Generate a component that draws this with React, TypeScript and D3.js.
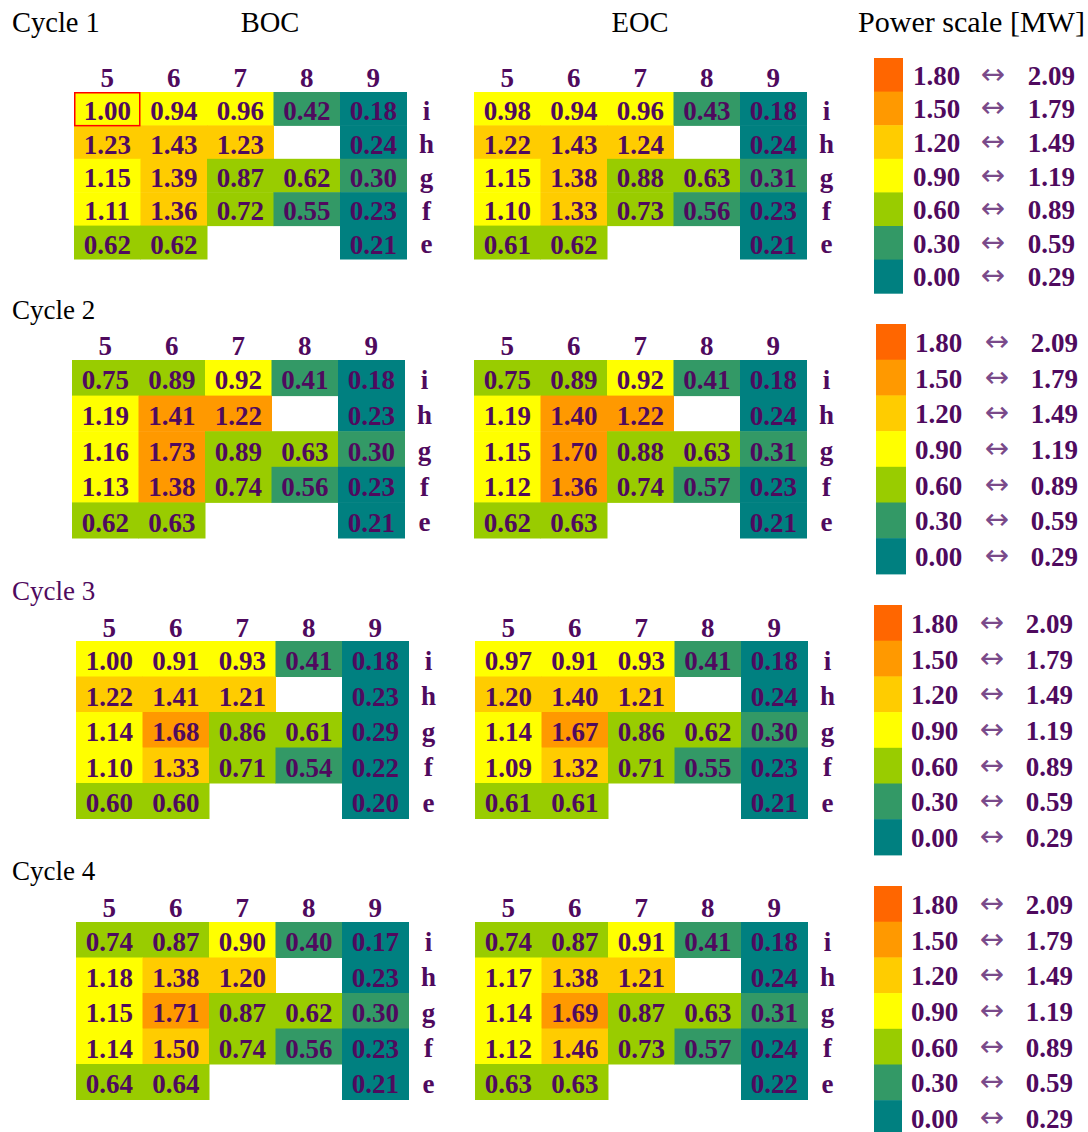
import React from "react";
import * as d3 from "d3";

// ---------- data ----------
const columns = ["5", "6", "7", "8", "9"];
const rows = ["i", "h", "g", "f", "e"];
const cycles = ["Cycle 1", "Cycle 2", "Cycle 3", "Cycle 4"];
const stages = ["BOC", "EOC"];

type Grid = (number | null)[][];

const c1BOC: Grid = [
  [1.0, 0.94, 0.96, 0.42, 0.18],
  [1.23, 1.43, 1.23, null, 0.24],
  [1.15, 1.39, 0.87, 0.62, 0.3],
  [1.11, 1.36, 0.72, 0.55, 0.23],
  [0.62, 0.62, null, null, 0.21],
];
const c1EOC: Grid = [
  [0.98, 0.94, 0.96, 0.43, 0.18],
  [1.22, 1.43, 1.24, null, 0.24],
  [1.15, 1.38, 0.88, 0.63, 0.31],
  [1.1, 1.33, 0.73, 0.56, 0.23],
  [0.61, 0.62, null, null, 0.21],
];
const c2BOC: Grid = [
  [0.75, 0.89, 0.92, 0.41, 0.18],
  [1.19, 1.41, 1.22, null, 0.23],
  [1.16, 1.73, 0.89, 0.63, 0.3],
  [1.13, 1.38, 0.74, 0.56, 0.23],
  [0.62, 0.63, null, null, 0.21],
];
const c2EOC: Grid = [
  [0.75, 0.89, 0.92, 0.41, 0.18],
  [1.19, 1.4, 1.22, null, 0.24],
  [1.15, 1.7, 0.88, 0.63, 0.31],
  [1.12, 1.36, 0.74, 0.57, 0.23],
  [0.62, 0.63, null, null, 0.21],
];
const c3BOC: Grid = [
  [1.0, 0.91, 0.93, 0.41, 0.18],
  [1.22, 1.41, 1.21, null, 0.23],
  [1.14, 1.68, 0.86, 0.61, 0.29],
  [1.1, 1.33, 0.71, 0.54, 0.22],
  [0.6, 0.6, null, null, 0.2],
];
const c3EOC: Grid = [
  [0.97, 0.91, 0.93, 0.41, 0.18],
  [1.2, 1.4, 1.21, null, 0.24],
  [1.14, 1.67, 0.86, 0.62, 0.3],
  [1.09, 1.32, 0.71, 0.55, 0.23],
  [0.61, 0.61, null, null, 0.21],
];
const c4BOC: Grid = [
  [0.74, 0.87, 0.9, 0.4, 0.17],
  [1.18, 1.38, 1.2, null, 0.23],
  [1.15, 1.71, 0.87, 0.62, 0.3],
  [1.14, 1.5, 0.74, 0.56, 0.23],
  [0.64, 0.64, null, null, 0.21],
];
const c4EOC: Grid = [
  [0.74, 0.87, 0.91, 0.41, 0.18],
  [1.17, 1.38, 1.21, null, 0.24],
  [1.14, 1.69, 0.87, 0.63, 0.31],
  [1.12, 1.46, 0.73, 0.57, 0.24],
  [0.63, 0.63, null, null, 0.22],
];
const grids: Grid[][] = [
  [c1BOC, c1EOC],
  [c2BOC, c2EOC],
  [c3BOC, c3EOC],
  [c4BOC, c4EOC],
];

// Power scale bands (MW)
const bandLow = [1.8, 1.5, 1.2, 0.9, 0.6, 0.3, 0.0];
const bandHigh = [2.09, 1.79, 1.49, 1.19, 0.89, 0.59, 0.29];
const bandColors = ["#FF6600", "#FF9900", "#FFCC00", "#FFFF00", "#99CC00", "#339966", "#008080"];

// cells whose shading in the source differs from the value's band
const shadeOverrides = [
  { cycle: 1, stage: 0, row: "h", col: "6", band: 1.5 },
  { cycle: 1, stage: 0, row: "h", col: "7", band: 1.5 },
  { cycle: 1, stage: 0, row: "f", col: "6", band: 1.5 },
  { cycle: 1, stage: 1, row: "h", col: "6", band: 1.5 },
  { cycle: 1, stage: 1, row: "h", col: "7", band: 1.5 },
  { cycle: 1, stage: 1, row: "f", col: "6", band: 1.5 },
  { cycle: 3, stage: 0, row: "f", col: "6", band: 1.2 },
];

// ---------- layout ----------
const layout = [
  { top: 92, rowH: 33.4, x0: [74, 474], head: 87, label: 32, labelSize: 28.5, labelColor: "#000",
    lx: 874, lw: 29, ly: 58, lh: 33.6, t1: 913, ta: 993, t2: 1075 },
  { top: 360, rowH: 35.6, x0: [72, 474], head: 355, label: 319, labelSize: 27, labelColor: "#000",
    lx: 876, lw: 30, ly: 324, lh: 35.7, t1: 915, ta: 997, t2: 1078 },
  { top: 641, rowH: 35.5, x0: [76, 475], head: 637, label: 600, labelSize: 27, labelColor: "#4f0a5e",
    lx: 874, lw: 28, ly: 605, lh: 35.7, t1: 911, ta: 992, t2: 1073 },
  { top: 922, rowH: 35.5, x0: [76, 475], head: 917, label: 880, labelSize: 27, labelColor: "#000",
    lx: 874, lw: 28, ly: 886, lh: 35.7, t1: 911, ta: 992, t2: 1073 },
];
const colW = 66.5;
const PURPLE = "#4f0a5e";
const FONT = "'Liberation Serif', 'Times New Roman', Times, serif";
const NUM = 27;

const colorScale = d3
  .scaleThreshold<number, string>()
  .domain([0.3, 0.6, 0.9, 1.2, 1.5, 1.8])
  .range(bandColors.slice().reverse());

export default function App() {
  return (
    <svg
      width={1088}
      height={1132}
      style={{ position: "absolute", left: 0, top: 0, background: "#fff" }}
      fontFamily={FONT}
    >
      {/* top headers */}
      <text x={270} y={32} fontSize={28.5} textAnchor="middle" fill="#000">BOC</text>
      <text x={640} y={32} fontSize={28.5} textAnchor="middle" fill="#000">EOC</text>
      <text x={858} y={32} fontSize={28.5} fill="#000" textLength={227} lengthAdjust="spacingAndGlyphs">
        Power scale [MW]
      </text>

      {cycles.map((cName, ci) => {
        const L = layout[ci];
        const y = d3
          .scaleBand<string>()
          .domain(rows)
          .range([L.top, L.top + L.rowH * rows.length]);
        const ly = d3
          .scaleBand<string>()
          .domain(bandLow.map(String))
          .range([L.ly, L.ly + L.lh * bandLow.length]);
        return (
          <g key={cName}>
            <text x={12} y={L.label} fontSize={L.labelSize} fill={L.labelColor}>
              {cName}
            </text>
            {stages.map((st, si) => {
              const x = d3
                .scaleBand<string>()
                .domain(columns)
                .range([L.x0[si], L.x0[si] + colW * columns.length]);
              const g = grids[ci][si];
              return (
                <g key={st}>
                  {columns.map((c) => (
                    <text
                      key={"h" + c}
                      x={x(c)! + x.bandwidth() / 2}
                      y={L.head}
                      textAnchor="middle"
                      fontSize={NUM}
                      fontWeight="bold"
                      fill={PURPLE}
                    >
                      {c}
                    </text>
                  ))}
                  {rows.map((r) => (
                    <text
                      key={"r" + r}
                      x={x.range()[1] + 20}
                      y={y(r)! + y.bandwidth() / 2 + 11}
                      textAnchor="middle"
                      fontSize={NUM}
                      fontWeight="bold"
                      fill={PURPLE}
                    >
                      {r}
                    </text>
                  ))}
                  {rows.map((r, ri) =>
                    columns.map((c, cj) => {
                      const v = g[ri][cj];
                      if (v === null) return null;
                      const ov = shadeOverrides.find(
                        (o) => o.cycle === ci && o.stage === si && o.row === r && o.col === c
                      );
                      const fill = colorScale(ov ? ov.band : v);
                      return (
                        <g key={r + c}>
                          <rect
                            x={x(c)!}
                            y={y(r)!}
                            width={x.bandwidth() + 0.5}
                            height={y.bandwidth() + 0.5}
                            fill={fill}
                          />
                          <text
                            x={x(c)! + x.bandwidth() / 2}
                            y={y(r)! + y.bandwidth() / 2 + 11.5}
                            textAnchor="middle"
                            fontSize={NUM}
                            fontWeight="bold"
                            fill={PURPLE}
                          >
                            {v.toFixed(2)}
                          </text>
                        </g>
                      );
                    })
                  )}
                  {ci === 0 && si === 0 && (
                    <rect
                      x={x("5")! + 0.75}
                      y={y("i")! + 0.75}
                      width={x.bandwidth() - 1.5}
                      height={y.bandwidth() - 0.5}
                      fill="none"
                      stroke="#ff0000"
                      strokeWidth={1.5}
                    />
                  )}
                </g>
              );
            })}
            {/* legend */}
            {bandLow.map((lo, bi) => {
              const key = String(lo);
              const yy = ly(key)!;
              const cy = yy + ly.bandwidth() / 2;
              return (
                <g key={"l" + key}>
                  <rect x={L.lx} y={yy} width={L.lw} height={ly.bandwidth() + 0.5} fill={colorScale(lo)} />
                  <text x={L.t1} y={cy + 10} fontSize={NUM} fontWeight="bold" fill={PURPLE}>
                    {lo.toFixed(2)}
                  </text>
                  <text
                    x={L.ta}
                    y={cy + 9}
                    fontSize={29}
                    textAnchor="middle"
                    fill="#7a4a8a"
                    fontFamily="'DejaVu Sans', sans-serif"
                  >
                    ↔
                  </text>
                  <text x={L.t2} y={cy + 10} fontSize={NUM} fontWeight="bold" textAnchor="end" fill={PURPLE}>
                    {bandHigh[bi].toFixed(2)}
                  </text>
                </g>
              );
            })}
          </g>
        );
      })}
    </svg>
  );
}
